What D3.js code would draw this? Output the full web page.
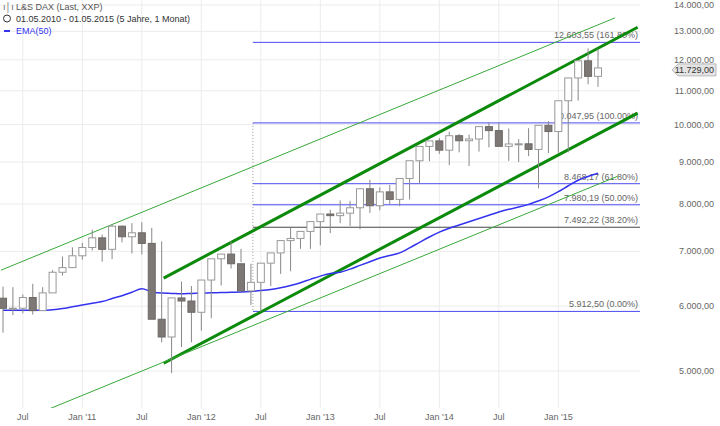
<!DOCTYPE html>
<html><head><meta charset="utf-8">
<script src="https://cdn.jsdelivr.net/npm/d3@7"></script>
<style>body{margin:0;background:#fff;font-family:"Liberation Sans",Arial,sans-serif}</style>
</head><body><div id="chart"></div>
<script>
const width = 720, height = 426;
const plotRight = 640, plotBottom = 408;

// Monthly OHLC, May 2010 .. May 2015
const opens  = [6136,5964,5966,6148,5925,6229,6601,6688,6914,7077,7272,7041,7514,7294,7376,7159,5784,5502,6141,6088,5898,6458,6856,6947,6761,6264,6416,6772,6970,7216,7260,7405,7612,7776,7741,7795,7914,8349,7959,8276,8103,8594,9033,9405,9552,9306,9692,9556,9603,9943,9833,9407,9470,9474,9326,9980,9806,10694,11402,11966,11454];
const highs  = [6340,6330,6200,6390,6330,6640,6900,7080,7170,7440,7340,7560,7530,7580,7600,7480,7200,5980,6430,6350,6200,6500,6940,7200,7050,6760,6600,6790,7020,7480,7410,7450,7670,7870,8080,8070,8060,8560,8380,8440,8400,8770,9130,9420,9630,9800,9740,9720,9810,10050,10050,9890,9600,9900,9560,10100,10100,10810,11430,12390,12380];
const lows   = [5570,5850,5880,5860,6150,6260,6540,6710,6840,7020,6800,6850,7180,6960,6940,6900,5420,4970,5350,5420,5600,5800,6360,6670,6790,6020,5910,6350,6570,6620,7050,7050,7120,7370,7580,7520,7450,7800,7860,8000,7950,8100,8470,9020,9210,8920,9250,8900,9270,9380,9600,9030,9000,9150,8360,9230,9240,9250,10700,11200,11120];
const closes = [5964,5966,6148,5925,6229,6601,6688,6914,7077,7272,7041,7514,7294,7376,7159,5784,5502,6141,6088,5898,6458,6856,6947,6761,6264,6416,6772,6970,7216,7260,7405,7612,7776,7741,7795,7914,8349,7959,8276,8103,8594,9033,9405,9552,9306,9692,9556,9603,9943,9833,9407,9470,9474,9326,9980,9806,10694,11402,11966,11454,11729];
const ema50  = [5930,5930,5930,5930,5930,5940,5960,5990,6020,6050,6080,6130,6180,6240,6300,6250,6225,6220,6215,6220,6225,6230,6235,6240,6245,6255,6270,6290,6320,6360,6410,6470,6530,6580,6600,6660,6730,6800,6870,6920,6970,7070,7180,7290,7390,7470,7540,7610,7680,7750,7820,7880,7930,7990,8070,8160,8280,8420,8550,8640,8720];

// trend channels: [month index, value] pairs
const channels = [
  {a:[16.2,6494], b:[64,13150], w:3},
  {a:[16.2,5110], b:[64,10330], w:3},
  {a:[-0.2,6640], b:[61.7,13500], w:1},
  {a:[0.8,4300], b:[62,8650], w:1}
];
const fibValues = [12603.55,10047.95,8468.17,7980.19,7492.22,5912.50];
const fibLabels = ["12.603,55 (161.80%)","10.047,95 (100.00%)","8.468,17 (61.80%)","7.980,19 (50.00%)","7.492,22 (38.20%)","5.912,50 (0.00%)"];
const fibStart = 25.2;
const yTicks = [5000,6000,7000,8000,9000,10000,11000,12000,13000,14000];
const xTicks = [[2,"Jul"],[8,"Jan '11"],[14,"Jul"],[20,"Jan '12"],[26,"Jul"],[32,"Jan '13"],[38,"Jul"],[44,"Jan '14"],[50,"Jul"],[56,"Jan '15"]];
const lastValue = "11.729,00";

const fmt = v => d3.format(",.2f")(v).replace(/,/g,"#").replace(".",",").replace(/#/g,".");

const x = d3.scaleLinear().domain([0,60]).range([3,598]);
const y = d3.scaleLog().domain([5000,14000]).range([371,5]);

const svg = d3.select("#chart").append("svg").attr("width",width).attr("height",height);
svg.append("defs").append("clipPath").attr("id","clip")
  .append("rect").attr("width",plotRight).attr("height",plotBottom);

// grid
svg.append("g").selectAll("line").data(yTicks).join("line")
  .attr("x1",0).attr("x2",plotRight).attr("y1",d=>y(d)).attr("y2",d=>y(d))
  .attr("stroke","#ececec");
svg.append("g").selectAll("line").data(xTicks).join("line")
  .attr("x1",d=>x(d[0])).attr("x2",d=>x(d[0])).attr("y1",0).attr("y2",plotBottom)
  .attr("stroke","#ececec");

// axis labels
svg.append("g").selectAll("text").data(yTicks).join("text")
  .attr("x",714).attr("y",d=>y(d)+3).attr("text-anchor","end")
  .attr("font-size",9).attr("fill","#666").text(fmt);
svg.append("g").selectAll("text").data(xTicks).join("text")
  .attr("x",d=>x(d[0])).attr("y",420).attr("text-anchor","middle")
  .attr("font-size",9).attr("fill","#666").text(d=>d[1]);

const plot = svg.append("g").attr("clip-path","url(#clip)");

// fib lines
plot.append("line").attr("x1",x(fibStart)).attr("x2",x(fibStart))
  .attr("y1",y(fibValues[1])).attr("y2",y(fibValues[5]))
  .attr("stroke","#999").attr("stroke-dasharray","1,2");
plot.selectAll(".fib").data(fibValues).join("line").attr("class","fib")
  .attr("x1",x(fibStart)).attr("x2",plotRight).attr("y1",d=>y(d)).attr("y2",d=>y(d))
  .attr("stroke",(d,i)=>i===4?"#444":"#4b4bf0").attr("stroke-width",1);
plot.selectAll(".fibl").data(fibValues).join("text").attr("class","fibl")
  .attr("x",638).attr("y",d=>y(d)-4).attr("text-anchor","end")
  .attr("font-size",9).attr("fill","#666").text((d,i)=>fibLabels[i]);

// channels
plot.selectAll(".ch").data(channels).join("line").attr("class","ch")
  .attr("x1",d=>x(d.a[0])).attr("y1",d=>y(d.a[1])).attr("x2",d=>x(d.b[0])).attr("y2",d=>y(d.b[1]))
  .attr("stroke",d=>d.w>1?"#0b8a0b":"#3aa83a").attr("stroke-width",d=>d.w);

// EMA
plot.append("path").datum(ema50)
  .attr("d",d3.line().x((d,i)=>x(i)).y(d=>y(d)).curve(d3.curveMonotoneX))
  .attr("fill","none").attr("stroke","#3333ee").attr("stroke-width",1.5);

// candles
const candles = plot.append("g").selectAll("g").data(closes).join("g");
candles.append("line")
  .attr("x1",(d,i)=>x(i)).attr("x2",(d,i)=>x(i))
  .attr("y1",(d,i)=>y(highs[i])).attr("y2",(d,i)=>y(lows[i]))
  .attr("stroke","#888");
candles.append("rect")
  .attr("x",(d,i)=>x(i)-3.5).attr("width",7)
  .attr("y",(d,i)=>y(Math.max(opens[i],d)))
  .attr("height",(d,i)=>Math.max(1,Math.abs(y(opens[i])-y(d))))
  .attr("fill",(d,i)=>d>=opens[i]?"#fff":"#7d7875")
  .attr("stroke",(d,i)=>d>=opens[i]?"#999":"#6d6865");

// last value callout
const ly = y(closes[closes.length-1]) + 2;
svg.append("path")
  .attr("d",`M${672},${ly} l6,-6 h38 v12 h-38 z`)
  .attr("fill","#e4e4e4").attr("stroke","#bbb");
svg.append("text").attr("x",714).attr("y",ly+3).attr("text-anchor","end")
  .attr("font-size",9).attr("fill","#333").text(lastValue);

// legend
const lg = svg.append("g").attr("font-size",9);
lg.append("text").attr("x",3).attr("y",10).attr("fill","#666").text("\u0131\u2502\u0131");
lg.append("text").attr("x",16).attr("y",10).attr("fill","#555").text("L&S DAX (Last, XXP)");
lg.append("circle").attr("cx",7).attr("cy",18.5).attr("r",3.5).attr("fill","none").attr("stroke","#333");
lg.append("text").attr("x",16).attr("y",22).attr("fill","#333").text("01.05.2010 - 01.05.2015 (5 Jahre, 1 Monat)");
lg.append("line").attr("x1",4).attr("x2",10).attr("y1",31).attr("y2",31).attr("stroke","#3333ee").attr("stroke-width",2);
lg.append("text").attr("x",16).attr("y",34).attr("fill","#3333ee").text("EMA(50)");
</script></body></html>
